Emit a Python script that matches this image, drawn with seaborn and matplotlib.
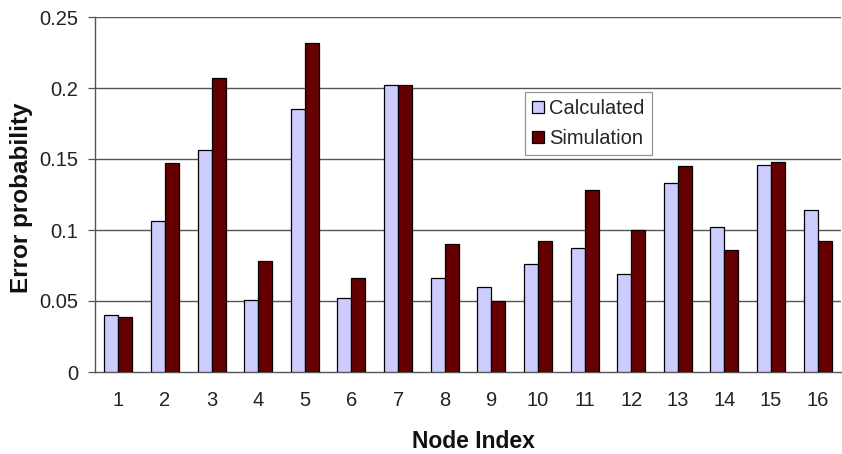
import matplotlib
matplotlib.use("Agg")
import matplotlib.pyplot as plt
import seaborn as sns
import pandas as pd
import numpy as np

nodes = [str(i) for i in range(1, 17)]
calculated = [0.040, 0.106, 0.156, 0.051, 0.185, 0.052, 0.202, 0.066,
              0.060, 0.076, 0.087, 0.069, 0.133, 0.102, 0.146, 0.114]
simulation = [0.039, 0.147, 0.207, 0.078, 0.232, 0.066, 0.202, 0.090,
              0.050, 0.092, 0.128, 0.100, 0.145, 0.086, 0.148, 0.092]
series_names = ["Calculated", "Simulation"]
yticks = [0, 0.05, 0.1, 0.15, 0.2, 0.25]
ytick_labels = ["0", "0.05", "0.1", "0.15", "0.2", "0.25"]

df = pd.DataFrame({
    "node": nodes * 2,
    "value": calculated + simulation,
    "series": [series_names[0]] * len(nodes) + [series_names[1]] * len(nodes),
})

sns.set_style("white")
plt.rcParams["font.family"] = ["Liberation Sans", "DejaVu Sans"]

fig = plt.figure(figsize=(8.42, 4.54), dpi=100)
ax = fig.add_axes([95 / 842, (454 - 372) / 454, 746 / 842, 355 / 454])

sns.barplot(data=df, x="node", y="value", hue="series", order=nodes,
            hue_order=series_names, palette=["#CCCCFF", "#660000"],
            saturation=1, width=0.6, gap=0, edgecolor="black", linewidth=0.9,
            errorbar=None, ax=ax, zorder=3)

ax.set_ylim(0, 0.25)
ax.set_xlim(-0.5, len(nodes) - 0.5)
ax.set_yticks(yticks)
ax.set_yticklabels(ytick_labels)
for y in yticks[1:]:
    ax.axhline(y, color="#555555", linewidth=1.0, zorder=1)

ax.set_xticks(np.arange(len(nodes)))
ax.set_xticklabels(nodes)
ax.set_xticks(np.arange(len(nodes) + 1) - 0.5, minor=True)
ax.tick_params(axis="x", which="major", length=0, labelsize=14.5, pad=14,
               colors="#222222")
ax.tick_params(axis="x", which="minor", length=5, width=0.9, color="#555555",
               direction="out")
ax.tick_params(axis="y", which="major", length=5, width=0.9, color="#555555",
               labelsize=14.5, pad=7, labelcolor="#222222", direction="out", left=True)

for side in ["top", "right"]:
    ax.spines[side].set_visible(False)
for side in ["left", "bottom"]:
    ax.spines[side].set_color("#555555")
    ax.spines[side].set_linewidth(1.0)

ax.set_xlabel("Node Index", fontsize=16.5, fontweight="bold", color="#111111")
ax.set_ylabel("Error probability", fontsize=17.5, fontweight="bold", color="#111111")
ax.xaxis.set_label_coords((473 - 95) / 746, -(430 - 372) / 355)
ax.yaxis.set_label_coords(-(95 - 33) / 746, 0.49)

leg = ax.legend(loc="upper left", bbox_to_anchor=((525 - 95) / 746, 1 - (92 - 17) / 355),
                borderaxespad=0, frameon=True,
                fancybox=False, edgecolor="#777777", fontsize=14.5,
                handlelength=0.6, handleheight=0.6, handletextpad=0.25,
                borderpad=0.35, labelspacing=0.55, title=None)
leg.get_frame().set_linewidth(0.9)

fig.savefig("out.png", dpi=100)
